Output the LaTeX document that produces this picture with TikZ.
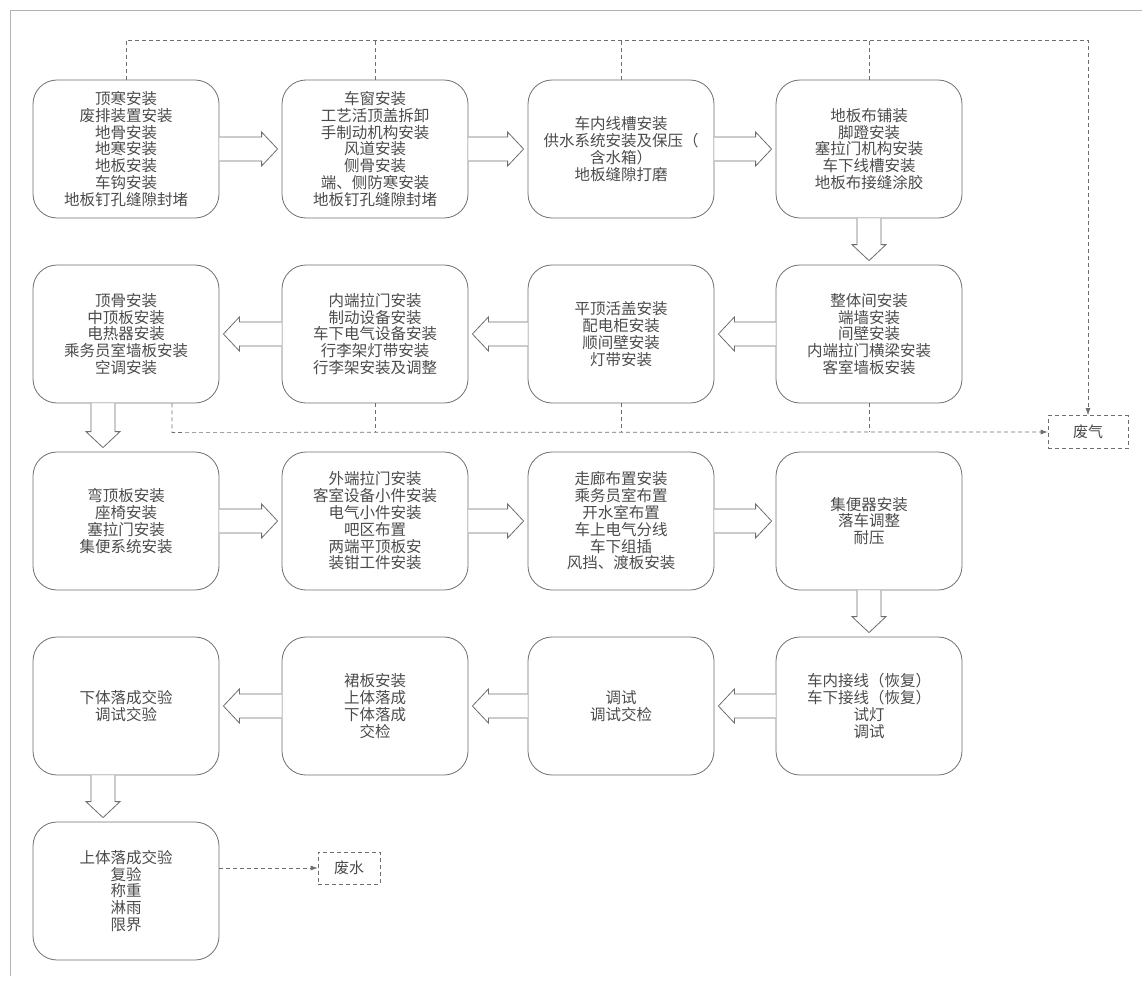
\documentclass[tikz,border=0pt]{standalone}
\usepackage{fontspec}
\newfontfamily\cjk{Noto Sans CJK SC}
\usetikzlibrary{calc,arrows.meta}
\definecolor{txt}{RGB}{75,75,75}
\definecolor{ln}{RGB}{110,110,110}
\begin{document}
\begin{tikzpicture}[x=1pt,y=-1pt,
  box/.style={draw=ln,line width=0.8pt,rounded corners=24pt,minimum width=186pt,minimum height=138pt,
    align=center,font=\cjk\fontsize{15.5}{16.8}\selectfont,text=txt,inner sep=2pt},
  hollow/.style={draw=ln,line width=0.8pt,fill=white},
  dline/.style={draw=ln,line width=0.7pt,dash pattern=on 4pt off 3pt},
  tipd/.style={-{Latex[length=7pt,width=5pt]}},
  wbox/.style={draw=ln,line width=0.7pt,dash pattern=on 4pt off 3pt,minimum width=80pt,minimum height=33pt,
    font=\cjk\fontsize{15}{16}\selectfont,text=txt,inner sep=2pt}]
\useasboundingbox (0,0) rectangle (1142,982);
\draw[gray!60,line width=0.6pt] (10,976) -- (10,10) -- (1142,10);
% row 1
\node[box] (b1) at (126,149) {顶寒安装\\废排装置安装\\地骨安装\\地寒安装\\地板安装\\车钩安装\\地板钉孔缝隙封堵};
\node[box] (b2) at (375,149) {车窗安装\\工艺活顶盖拆卸\\手制动机构安装\\风道安装\\侧骨安装\\端、侧防寒安装\\地板钉孔缝隙封堵};
\node[box] (b3) at (621,149) {车内线槽安装\\供水系统安装及保压（\\含水箱）\\地板缝隙打磨};
\node[box] (b4) at (869,149) {地板布铺装\\脚蹬安装\\塞拉门机构安装\\车下线槽安装\\地板布接缝涂胶};
% row 2
\node[box] (b5) at (126,334) {顶骨安装\\中顶板安装\\电热器安装\\乘务员室墙板安装\\空调安装};
\node[box] (b6) at (375,334) {内端拉门安装\\制动设备安装\\车下电气设备安装\\行李架灯带安装\\行李架安装及调整};
\node[box] (b7) at (621,334) {平顶活盖安装\\配电柜安装\\顺间壁安装\\灯带安装};
\node[box] (b8) at (869,334) {整体间安装\\端墙安装\\间壁安装\\内端拉门横梁安装\\客室墙板安装};
% row 3
\node[box] (b9) at (126,521) {弯顶板安装\\座椅安装\\塞拉门安装\\集便系统安装};
\node[box] (b10) at (375,521) {外端拉门安装\\客室设备小件安装\\电气小件安装\\吧区布置\\两端平顶板安\\装钳工件安装};
\node[box] (b11) at (621,521) {走廊布置安装\\乘务员室布置\\开水室布置\\车上电气分线\\车下组插\\风挡、渡板安装};
\node[box] (b12) at (869,521) {集便器安装\\落车调整\\耐压};
% row 4
\node[box] (b13) at (869,706) {车内接线（恢复）\\车下接线（恢复）\\试灯\\调试};
\node[box] (b14) at (621,706) {调试\\调试交检};
\node[box] (b15) at (375,706) {裙板安装\\上体落成\\下体落成\\交检};
\node[box] (b16) at (126,706) {下体落成交验\\调试交验};
% row 5
\node[box] (b17) at (126,891) {上体落成交验\\复验\\称重\\淋雨\\限界};
% waste boxes
\node[wbox] (fq) at (1088,432) {废气};
\node[wbox,minimum width=62pt,minimum height=32pt] (fs) at (349,868) {废水};
% hollow arrows (right)
\foreach \a/\b in {b1/b2,b2/b3,b3/b4,b9/b10,b10/b11,b11/b12}{
  \draw[hollow] ($(\a.east)+(0,-12)$) -- ($(\b.west)+(-20,-12)$) -- ($(\b.west)+(-20,-17)$)
     -- ($(\b.west)+(-4,0)$) -- ($(\b.west)+(-20,17)$) -- ($(\b.west)+(-20,12)$) -- ($(\a.east)+(0,12)$);
}
% hollow arrows (left)
\foreach \a/\b in {b8/b7,b7/b6,b6/b5,b13/b14,b14/b15,b15/b16}{
  \draw[hollow] ($(\a.west)+(0,-12)$) -- ($(\b.east)+(20,-12)$) -- ($(\b.east)+(20,-17)$)
     -- ($(\b.east)+(4,0)$) -- ($(\b.east)+(20,17)$) -- ($(\b.east)+(20,12)$) -- ($(\a.west)+(0,12)$);
}
% hollow arrows (down)
\foreach \a/\b/\dx in {b4/b8/0,b12/b13/0,b5/b9/-23,b16/b17/-23}{
  \draw[hollow] ($(\a.south)+(\dx-12,0)$) -- ($(\b.north)+(\dx-12,-20)$) -- ($(\b.north)+(\dx-17,-20)$)
     -- ($(\b.north)+(\dx,-4)$) -- ($(\b.north)+(\dx+17,-20)$) -- ($(\b.north)+(\dx+12,-20)$) -- ($(\a.south)+(\dx+12,0)$);
}
% dashed exhaust lines (top)
\coordinate (tr) at (fq.north |- 0,40);
\draw[dline,tipd] (b1.north) -- (b1.north |- tr) -- (tr) -- (fq.north);
\foreach \n in {b2,b3,b4}{ \draw[dline] (\n.north) -- (\n.north |- tr); }
% dashed exhaust lines (bottom)
\coordinate (bl) at ($(b5.south)+(46,29)$);
\draw[dline,tipd] ($(b5.south)+(46,0)$) -- (bl) -- (fq.west);
\foreach \n in {b6,b7,b8}{ \draw[dline] (\n.south) -- (\n.south |- bl); }
% waste water
\draw[dline,tipd] (b17.east |- fs) -- (fs.west);
\end{tikzpicture}
\end{document}
